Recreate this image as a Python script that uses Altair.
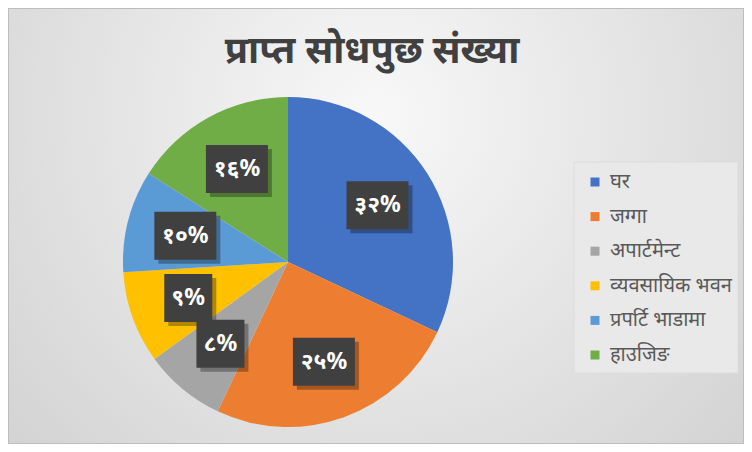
import altair as alt
import pandas as pd

categories = ["घर", "जग्गा", "अपार्टमेन्ट", "व्यवसायिक भवन", "प्रपर्टि भाडामा", "हाउजिङ"]
values = [32, 25, 8, 9, 10, 16]
labels = ["३२%", "२५%", "८%", "९%", "१०%", "१६%"]
colors = ["#4472C4", "#ED7D31", "#A5A5A5", "#FFC000", "#5B9BD5", "#70AD47"]
title_text = "प्राप्त सोधपुछ संख्या"

df = pd.DataFrame({"i": list(range(len(categories))), "cat": categories,
                   "value": values, "label": labels})

W, H = 736, 436
CX, CY, R = 280, 254, 165
LR = 106
FONT = "Noto Sans"

bg = alt.Chart(pd.DataFrame({"a": [0]})).mark_rect(
    color=alt.RadialGradient(
        gradient="radial", x1=0.5, y1=0.35, r1=0, x2=0.5, y2=0.35, r2=0.85,
        stops=[alt.GradientStop(color="#f8f8f8", offset=0),
               alt.GradientStop(color="#c9c9c9", offset=1)]),
    stroke="#bdbdbd", strokeWidth=2
).encode(x=alt.value(0), x2=alt.value(W), y=alt.value(0), y2=alt.value(H))

legend_bg = alt.Chart(pd.DataFrame({"a": [0]})).mark_rect(
    color="#e9e9e9", stroke="#dcdcdc", strokeWidth=1
).encode(x=alt.value(566), x2=alt.value(730), y=alt.value(154), y2=alt.value(365))

title = alt.Chart(pd.DataFrame({"t": [title_text]})).mark_text(
    font=FONT, fontSize=38, fontWeight="bold", color="#404040", align="center", baseline="middle"
).encode(x=alt.value(364), y=alt.value(44), text="t:N")

base = alt.Chart(df)

pie = base.mark_arc(radius=R).encode(
    theta=alt.Theta("value:Q", stack=True),
    order=alt.Order("i:Q"),
    color=alt.Color("cat:N", scale=alt.Scale(domain=categories, range=colors),
                    legend=alt.Legend(orient="none", legendX=577, legendY=164, title=None,
                                      symbolType="square", symbolSize=81, symbolStrokeWidth=0,
                                      labelFont=FONT, labelFontSize=20, labelColor="#595959",
                                      rowPadding=14.6, padding=0, labelOffset=5, labelLimit=200)),
    x=alt.value(CX), y=alt.value(CY),
)

lab = base.transform_window(
    cum="sum(value)", sort=[alt.SortField("i")], frame=[None, 0]
).transform_joinaggregate(
    total="sum(value)"
).transform_calculate(
    mid="2*PI*(datum.cum - datum.value/2)/datum.total",
).transform_calculate(
    lx=f"{CX} + {LR}*sin(datum.mid)",
    ly=f"{CY} - {LR}*cos(datum.mid)",
    hw="(20 + 14*length(datum.label))/2",
).transform_calculate(
    bx1="datum.lx - datum.hw", bx2="datum.lx + datum.hw",
    by1="datum.ly - 24", by2="datum.ly + 24",
    sx1="datum.lx - datum.hw + 4", sx2="datum.lx + datum.hw + 4",
    sy1="datum.ly - 24 + 4", sy2="datum.ly + 24 + 4",
)

shadow = lab.mark_rect(color="#000000", opacity=0.3).encode(
    x=alt.X("sx1:Q", scale=None, axis=None), x2="sx2:Q",
    y=alt.Y("sy1:Q", scale=None, axis=None), y2="sy2:Q")

box = lab.mark_rect(color="#404040").encode(
    x=alt.X("bx1:Q", scale=None, axis=None), x2="bx2:Q",
    y=alt.Y("by1:Q", scale=None, axis=None), y2="by2:Q")

txt = lab.mark_text(font=FONT, fontSize=23, fontWeight="bold", color="white",
                    align="center", baseline="middle").encode(
    x=alt.X("lx:Q", scale=None, axis=None),
    y=alt.Y("ly:Q", scale=None, axis=None),
    text="label:N")

chart = alt.layer(bg, legend_bg, title, pie, shadow, box, txt).properties(
    width=W, height=H, padding=0, autosize=alt.AutoSizeParams(type="none")
).configure_view(stroke=None)

chart.save("out.html", embed_options={"renderer": "svg", "actions": False})
